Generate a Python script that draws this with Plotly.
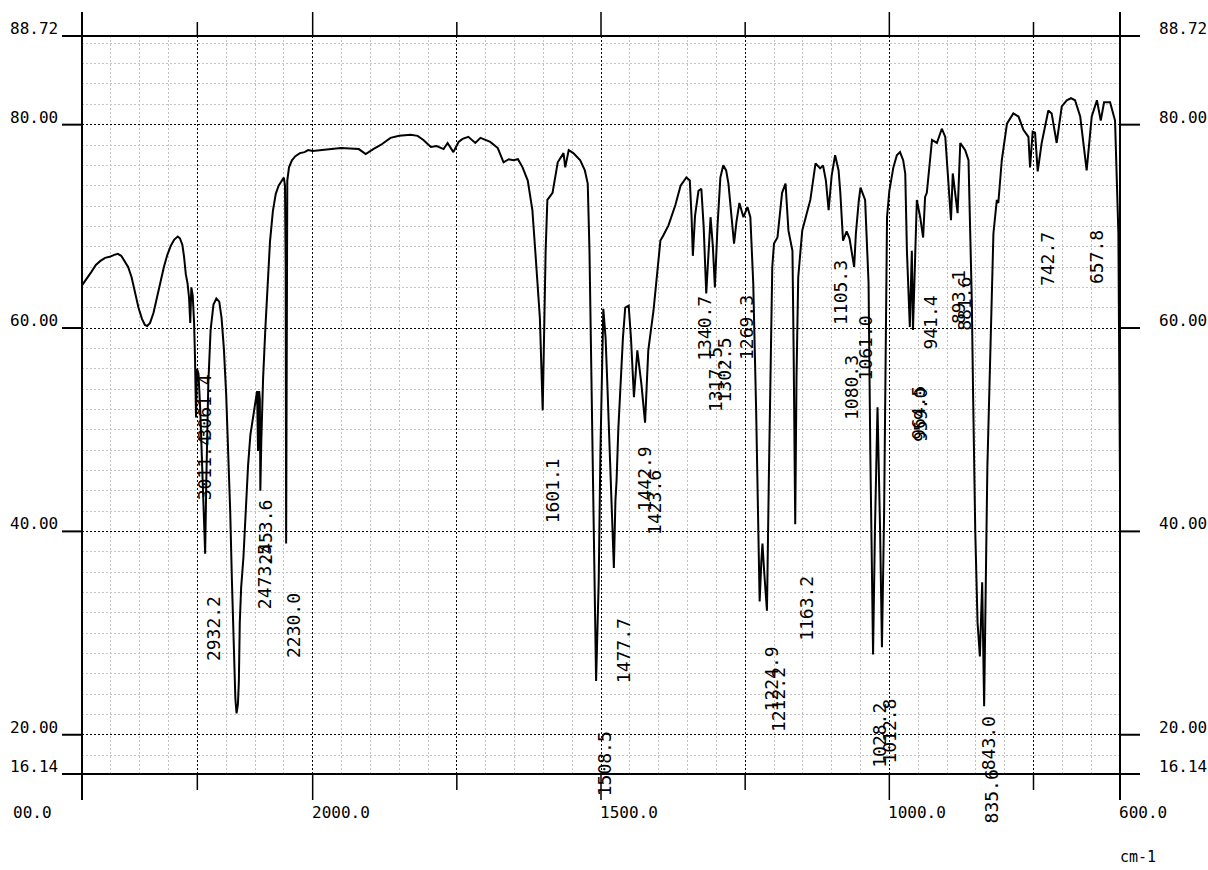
import plotly.graph_objects as go

# ---------------- data ----------------
WAVENUMBER = [
    4000, 3960, 3920, 3880, 3840, 3800, 3760, 3720, 3690, 3660, 3630, 3600, 3570, 3540,
    3510, 3480, 3455, 3435, 3410, 3380, 3350, 3320, 3290, 3260, 3230, 3200, 3170, 3150,
    3130, 3115, 3100, 3085, 3072, 3061.4, 3052, 3040, 3028, 3020, 3011.4, 3003, 2990,
    2975, 2955, 2940, 2932.2, 2922, 2905, 2885, 2860, 2835, 2810, 2790, 2770, 2750,
    2730, 2715, 2700, 2685, 2670, 2660, 2648, 2640, 2632, 2620, 2600, 2580, 2560, 2540,
    2515, 2495, 2482, 2473.5, 2464, 2458, 2453.6, 2445, 2430, 2410, 2390, 2370, 2345,
    2320, 2295, 2270, 2250, 2240, 2234, 2230, 2226, 2220, 2205, 2180, 2150, 2110, 2070,
    2040, 2000,
    1980, 1951, 1920, 1908, 1895, 1882, 1865, 1850, 1830, 1818, 1808, 1795, 1785, 1773, 1766,
    1756, 1747, 1740, 1730, 1718, 1709, 1700, 1692, 1679, 1669, 1660, 1652, 1644, 1636,
    1627, 1619, 1614, 1610, 1606, 1601.1, 1598, 1596, 1593, 1584, 1575, 1565, 1562, 1556,
    1548, 1541, 1536, 1528, 1523, 1520, 1515, 1508.5, 1504, 1501, 1496, 1492, 1489, 1484,
    1477.7, 1475, 1473, 1470, 1466, 1462, 1458, 1452, 1448, 1442.9, 1437, 1430, 1423.6,
    1418, 1409, 1402, 1397, 1392, 1383, 1371, 1362, 1352, 1346, 1343, 1340.7, 1337, 1331,
    1326, 1322, 1317.5, 1313, 1310, 1306, 1302.5, 1298, 1293, 1288, 1283, 1279, 1274,
    1269.3, 1265, 1260, 1253, 1246, 1241, 1236, 1231, 1227, 1224.9, 1222, 1220, 1217,
    1212.2, 1209, 1206, 1203, 1200, 1194, 1186, 1180, 1175, 1168, 1166, 1163.2, 1161,
    1158, 1151, 1146, 1137, 1128, 1120, 1115, 1110, 1105.3, 1100, 1094, 1088, 1085,
    1080.3, 1074, 1069, 1061.0, 1058, 1053, 1050, 1042, 1036, 1033, 1030.5, 1028.2, 1025,
    1020.5, 1016, 1012.8, 1009, 1007, 1004, 1000, 993, 987, 981.5, 976, 972.4, 969.5,
    964.5, 961, 959.0, 952.3, 946.5, 941.4, 938, 935, 926, 917.5, 909, 903, 893.1, 890,
    881.6, 877, 868.4, 862.7, 857, 854.6, 851, 847, 843.0, 839, 835.6, 832, 830, 819.5,
    813.6, 811, 805, 796, 785, 776, 767.5, 758.8, 756, 751.4, 747.3, 742.7, 735.8, 724.3,
    718.5, 709.8, 701, 692.3, 685, 678, 669, 657.8, 649, 640, 633.4, 627.6, 617.2, 608.6,
    602.8, 600,
]

TRANSMITTANCE = [
    64.2, 64.8, 65.5, 66.2, 66.6, 66.9, 67.0, 67.2, 67.3, 67.1, 66.6, 66.0, 65.0, 63.5,
    62.0, 60.9, 60.3, 60.2, 60.5, 61.5, 63.0, 64.6, 66.0, 67.2, 68.1, 68.7, 69.0, 68.8,
    68.2, 67.0, 65.3, 64.4, 63.0, 60.5, 64.0, 63.2, 60.5, 57.0, 51.2, 56.0, 55.5,
    52.0, 46.0, 41.0, 37.8, 45.0, 54.5, 59.8, 62.3, 62.9, 62.6, 61.0, 58.0, 53.5,
    47.9, 42.0, 35.1, 28.0, 23.5, 22.1, 23.0, 25.2, 31.0, 34.5, 37.5, 42.0, 46.5, 49.5,
    51.5, 53.0, 53.8, 47.9, 53.8, 53.0, 44.0, 49.0, 55.0, 60.0, 65.0, 68.5, 71.5,
    73.2, 74.0, 74.5, 74.8, 74.0, 66.0, 38.8, 66.0, 74.5, 75.8, 76.5, 76.9, 77.2, 77.3,
    77.5, 77.4,
    77.5, 77.7, 77.6, 77.1, 77.6, 78.0, 78.7, 78.9, 79.0, 78.9, 78.5, 77.8, 77.9, 77.6, 78.2,
    77.3, 78.3, 78.6, 78.8, 78.2, 78.7, 78.5, 78.3, 77.7, 76.3, 76.6, 76.5, 76.6, 75.8,
    74.5, 71.6, 67.6, 63.7, 61.0, 51.9, 62.0, 67.6, 72.6, 73.3, 76.3, 77.2, 75.8, 77.5,
    77.2, 76.8, 76.5, 75.5, 74.2, 67.6, 50.0, 25.3, 35.0, 47.9, 61.9, 59.0, 54.5, 46.0,
    36.4, 43.0, 45.0, 50.0, 54.5, 59.0, 62.0, 62.2, 59.0, 53.2, 57.8, 54.5, 50.7,
    57.8, 61.7, 66.0, 68.6, 69.1, 70.1, 72.1, 74.0, 74.8, 74.5, 71.0, 67.1, 71.0, 73.5,
    73.7, 70.0, 63.4, 68.0, 70.9, 68.0, 64.0, 70.0, 74.8, 76.0, 75.5, 74.2, 71.5,
    68.3, 70.5, 72.3, 70.9, 71.9, 70.9, 64.4, 52.0, 40.0, 33.1, 37.0, 38.8, 36.0,
    32.2, 45.0, 58.0, 66.0, 68.3, 68.9, 73.3, 74.2, 69.6, 67.6, 58.0, 40.7, 55.0,
    65.0, 69.6, 70.6, 72.6, 76.2, 75.7, 76.0, 74.5, 71.6, 75.0, 77.0, 75.5, 73.3,
    68.6, 69.5, 68.8, 66.0, 69.3, 72.5, 73.8, 72.6, 64.4, 47.9, 35.0, 27.9, 40.0,
    52.2, 40.0, 28.6, 42.0, 52.8, 70.9, 73.5, 75.8, 77.0, 77.3, 76.5, 75.2, 67.6,
    60.1, 67.6, 59.8, 72.6, 70.9, 68.9, 72.9, 73.3, 78.5, 78.2, 79.6, 78.8, 70.6, 75.2,
    71.3, 78.2, 77.5, 76.5, 62.7, 52.9, 40.0, 31.0, 27.7, 35.0, 22.8, 38.0, 46.3, 69.3,
    72.6, 72.3, 76.5, 80.1, 81.1, 80.8, 79.5, 78.8, 75.8, 79.3, 79.2, 75.4, 78.2, 81.4,
    81.1, 78.2, 81.8, 82.4, 82.6, 82.4, 80.8, 75.5, 80.8, 82.4, 80.4, 82.2, 82.2, 80.4,
    69.3, 44.9,
]

PEAK_TEXT = [
    "3061.4", "3011.4", "2932.2", "2473.5", "2453.6", "2230.0", "1601.1", "1508.5",
    "1477.7", "1442.9", "1423.6", "1340.7", "1317.5", "1302.5", "1269.3", "1224.9",
    "1212.2", "1163.2", "1105.3", "1080.3", "1061.0", "1028.2", "1012.8", "964.5",
    "959.0", "941.4", "893.1", "881.6", "843.0", "835.6", "742.7", "657.8",
]
PEAK_WN = [
    3061.4, 3011.4, 2932.2, 2473.5, 2453.6, 2230.0, 1601.1, 1508.5,
    1477.7, 1442.9, 1423.6, 1340.7, 1317.5, 1302.5, 1269.3, 1224.9,
    1212.2, 1163.2, 1105.3, 1080.3, 1061.0, 1028.2, 1012.8, 964.5,
    959.0, 941.4, 893.1, 881.6, 843.0, 835.6, 742.7, 657.8,
]

Y_TICK_VALUES = [88.72, 80.0, 60.0, 40.0, 20.0, 16.14]
Y_TICK_TEXT = ["88.72", "80.00", "60.00", "40.00", "20.00", "16.14"]
X_TICK_WN = [4000, 2000, 1500, 1000, 600]
X_TICK_TEXT = ["00.0", "2000.0", "1500.0", "1000.0", "600.0"]

# ---------------- layout helpers (label placement, not data) ----------------
LABEL_TOP_T = [
    55.6, 49.6, 33.8, 38.9, 43.3, 34.1, 47.4, 20.5,
    31.7, 48.6, 46.2, 63.4, 58.3, 59.3, 63.4, 28.9,
    26.9, 35.8, 66.9, 57.5, 61.4, 23.3, 23.8, 54.5,
    54.3, 63.4, 65.9, 65.2, 22.0, 16.8, 69.6, 69.8,
]
LABEL_DX = [
    14, 8, 9, 6, 5, 8, 10, 8,
    9, 11, 10, 12, 10, 10, 13, 12,
    11, 11, 12, 9, 11, 7, 8, 9,
    8, 7, 7, 7, 9, 7, 10, 10,
]

Y_MIN, Y_MAX = 16.14, 88.72
X_MAJOR_GRID = [3000, 2000, 1750, 1500, 1250, 1000, 750]
X_MINOR_GRID = [3750, 3500, 3250, 2750, 2500, 2250] + [w for w in range(1950, 600, -50) if w % 250 != 0]
X_LONG_TICKS = [2000, 1500, 1000]
X_SHORT_TICKS = [3000, 1750, 1250, 750]
Y_MAJOR_GRID = [20, 40, 60, 80]
Y_MINOR_GRID = [v for v in range(18, 89, 2) if v % 20 != 0]

FONT = "DejaVu Sans Mono"
W, H = 1208, 870
ML, MR, MT, MB = 82, 88, 36, 96
PW, PH = W - ML - MR, H - MT - MB


def u(wn):
    """Broken wavenumber axis: 4000-2000 compressed 5x."""
    return wn if wn <= 2000 else 2000 + (wn - 2000) / 5.0


fig = go.Figure()
fig.add_trace(go.Scatter(
    x=[u(w) for w in WAVENUMBER], y=TRANSMITTANCE, mode="lines",
    line=dict(color="black", width=2), hoverinfo="skip", showlegend=False,
))

shapes = []
px_x = lambda p: p / PW
px_y = lambda p: p / PH
# frame lines
for xp in (0, 1):
    shapes.append(dict(type="line", xref="paper", yref="paper", x0=xp, x1=xp,
                       y0=-px_y(26), y1=1 + px_y(24), line=dict(color="black", width=2)))
for yp in (0, 1):
    shapes.append(dict(type="line", xref="paper", yref="paper", x0=-px_x(20), x1=1 + px_x(20),
                       y0=yp, y1=yp, line=dict(color="black", width=2)))
# y ticks
for v in Y_MAJOR_GRID:
    shapes.append(dict(type="line", xref="paper", yref="y", x0=-px_x(20), x1=0, y0=v, y1=v,
                       line=dict(color="black", width=2)))
    shapes.append(dict(type="line", xref="paper", yref="y", x0=1, x1=1 + px_x(20), y0=v, y1=v,
                       line=dict(color="black", width=2)))
# x ticks
for w in X_LONG_TICKS:
    shapes.append(dict(type="line", xref="x", yref="paper", x0=u(w), x1=u(w), y0=1, y1=1 + px_y(24),
                       line=dict(color="black", width=1.5)))
    shapes.append(dict(type="line", xref="x", yref="paper", x0=u(w), x1=u(w), y0=0, y1=-px_y(26),
                       line=dict(color="black", width=1.5)))
for w in X_SHORT_TICKS:
    shapes.append(dict(type="line", xref="x", yref="paper", x0=u(w), x1=u(w), y0=1, y1=1 + px_y(14),
                       line=dict(color="black", width=1.5)))
    shapes.append(dict(type="line", xref="x", yref="paper", x0=u(w), x1=u(w), y0=0, y1=-px_y(16),
                       line=dict(color="black", width=1.5)))

annotations = []
for v, t in zip(Y_TICK_VALUES, Y_TICK_TEXT):
    annotations.append(dict(text=t, xref="paper", yref="y", x=-px_x(22), y=v, xanchor="right",
                            yanchor="bottom", yshift=-4, showarrow=False,
                            font=dict(family=FONT, size=16, color="black")))
    annotations.append(dict(text=t, xref="paper", yref="y", x=1 + px_x(37), y=v, xanchor="left",
                            yanchor="bottom", yshift=-4, showarrow=False,
                            font=dict(family=FONT, size=16, color="black")))
for i, (w, t) in enumerate(zip(X_TICK_WN, X_TICK_TEXT)):
    annotations.append(dict(text=t, xref="x", yref="paper", x=u(w), y=-px_y(39), xanchor="left",
                            yanchor="middle", xshift=(-71 if i == 0 else -3), showarrow=False,
                            font=dict(family=FONT, size=16, color="black")))
annotations.append(dict(text="cm-1", xref="paper", yref="paper", x=1 - px_x(2), y=-px_y(83),
                        xanchor="left", yanchor="middle", showarrow=False,
                        font=dict(family=FONT, size=15, color="black")))
for t, w, yt, dx in zip(PEAK_TEXT, PEAK_WN, LABEL_TOP_T, LABEL_DX):
    annotations.append(dict(text=t, xref="x", yref="y", x=u(w), y=yt, xanchor="center",
                            yanchor="top", xshift=dx, textangle=-90, showarrow=False,
                            font=dict(family=FONT, size=18, color="black")))

fig.update_layout(
    width=W, height=H, margin=dict(l=ML, r=MR, t=MT, b=MB, pad=0),
    paper_bgcolor="white", plot_bgcolor="white", showlegend=False,
    shapes=shapes, annotations=annotations,
    xaxis=dict(range=[u(4000), u(600)], tickmode="array", tickvals=[u(w) for w in X_MAJOR_GRID],
               showticklabels=False, ticks="", showgrid=True, gridcolor="black", gridwidth=1,
               griddash="2px,2px", zeroline=False, showline=False, fixedrange=True,
               minor=dict(tickmode="array", tickvals=[u(w) for w in X_MINOR_GRID], showgrid=True,
                          gridcolor="#c4c4c4", gridwidth=1, griddash="2px,2px", ticks="")),
    yaxis=dict(range=[Y_MIN, Y_MAX], tickmode="array", tickvals=Y_MAJOR_GRID,
               showticklabels=False, ticks="", showgrid=True, gridcolor="black", gridwidth=1,
               griddash="2px,2px", zeroline=False, showline=False, fixedrange=True,
               minor=dict(tickmode="array", tickvals=Y_MINOR_GRID, showgrid=True,
                          gridcolor="#c4c4c4", gridwidth=1, griddash="2px,2px", ticks="")),
)

fig.write_html("out.html")
